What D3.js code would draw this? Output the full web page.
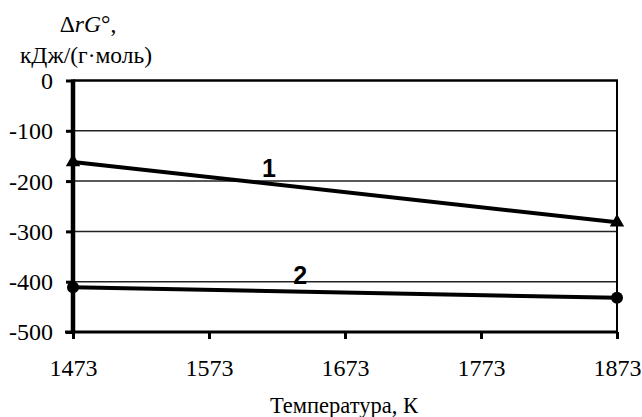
<!DOCTYPE html>
<html><head><meta charset="utf-8">
<script src="https://cdn.jsdelivr.net/npm/d3@7"></script>
<style>body{margin:0;background:#fff}svg{display:block}
.serif{font-family:"Liberation Serif","Times New Roman",serif !important;}
</style>
</head><body>
<svg id="c" width="642" height="417"></svg>
<script>
const temps = [1473, 1873];
const series1 = [-162, -282];
const series2 = [-411, -432];
const xTicks = [1473, 1573, 1673, 1773, 1873];
const yTicks = [0, -100, -200, -300, -400, -500];
const seriesLabels = ["1", "2"];

const svg = d3.select("#c");
const m = {l:73, r:617, t:80.5, b:332};
const x = d3.scaleLinear().domain([1473, 1873]).range([m.l, m.r]);
const y = d3.scaleLinear().domain([0, -500]).range([m.t, m.b]);

// gridlines
svg.append("g").selectAll("line").data(yTicks.filter(d => d !== 0 && d !== -500)).join("line")
  .attr("x1", m.l).attr("x2", m.r).attr("y1", d => y(d)).attr("y2", d => y(d))
  .attr("stroke", "#222").attr("stroke-width", 1.5);

// top & right border
svg.append("line").attr("x1", m.l).attr("x2", m.r+1).attr("y1", y(0)).attr("y2", y(0))
  .attr("stroke", "#000").attr("stroke-width", 2.5);
svg.append("line").attr("x1", m.r).attr("x2", m.r).attr("y1", y(0)).attr("y2", m.b)
  .attr("stroke", "#000").attr("stroke-width", 2);

// axes
const yAxis = d3.axisLeft(y).tickValues(yTicks).tickSize(7).tickPadding(13).tickFormat(d => String(d));
const gy = svg.append("g").attr("transform", `translate(${m.l},0)`).call(yAxis);
gy.attr("font-family", null).attr("font-size", null);
gy.select(".domain").attr("stroke-width", 4.5).attr("d", `M0,${y(0)-1}V${m.b+1}`);
gy.selectAll(".tick line").attr("stroke-width", 3);
gy.selectAll("text").attr("class", "serif").style("font-size", "24px").attr("fill", "#000").attr("dy", "0.33em");

const xAxis = d3.axisBottom(x).tickValues(xTicks).tickSize(7).tickPadding(14).tickFormat(d => String(d));
const gx = svg.append("g").attr("transform", `translate(0,${m.b})`).call(xAxis);
gx.attr("font-family", null).attr("font-size", null);
gx.select(".domain").attr("stroke-width", 3).attr("d", `M${m.l-8},0H${m.r}`);
gx.selectAll(".tick line").attr("stroke-width", 3);
gx.selectAll("text").attr("class", "serif").style("font-size", "24px").attr("fill", "#000")
  .attr("y", 44).attr("dy", null);

// series lines
const line = d3.line().x((d, i) => x(temps[i])).y(d => y(d));
[series1, series2].forEach(s => {
  svg.append("path").datum(s).attr("d", line).attr("fill", "none")
    .attr("stroke", "#000").attr("stroke-width", 4);
});

// markers
svg.append("g").selectAll("path").data(series1).join("path")
  .attr("d", d3.symbol().type(d3.symbolTriangle).size(90))
  .attr("transform", (d, i) => `translate(${x(temps[i])},${y(d)})`).attr("fill", "#000");
svg.append("g").selectAll("circle").data(series2).join("circle")
  .attr("cx", (d, i) => x(temps[i])).attr("cy", d => y(d)).attr("r", 6).attr("fill", "#000");

// series labels
const labelPos = [[1617, -192], [1640, -405]];
svg.append("g").selectAll("text").data(seriesLabels).join("text")
  .attr("x", (d, i) => x(labelPos[i][0])).attr("y", (d, i) => y(labelPos[i][1]))
  .attr("text-anchor", "middle").style("font-family", "'Liberation Sans',Arial,sans-serif")
  .attr("font-weight", "bold").style("font-size", "25px").text(d => d);

// axis titles
const t1 = svg.append("text").attr("class", "serif").attr("x", 88).attr("y", 32).attr("text-anchor", "middle")
  .style("font-size", "23.5px");
t1.append("tspan").text("Δ");
t1.append("tspan").attr("font-style", "italic").text("rG");
t1.append("tspan").text("°,");
svg.append("text").attr("class", "serif").attr("x", 86).attr("y", 63).attr("text-anchor", "middle")
  .style("font-size", "23.5px").text("кДж/(г·моль)");
svg.append("text").attr("class", "serif").attr("x", 344).attr("y", 413).attr("text-anchor", "middle")
  .style("font-size", "22.5px").text("Температура, К");
</script>
</body></html>
